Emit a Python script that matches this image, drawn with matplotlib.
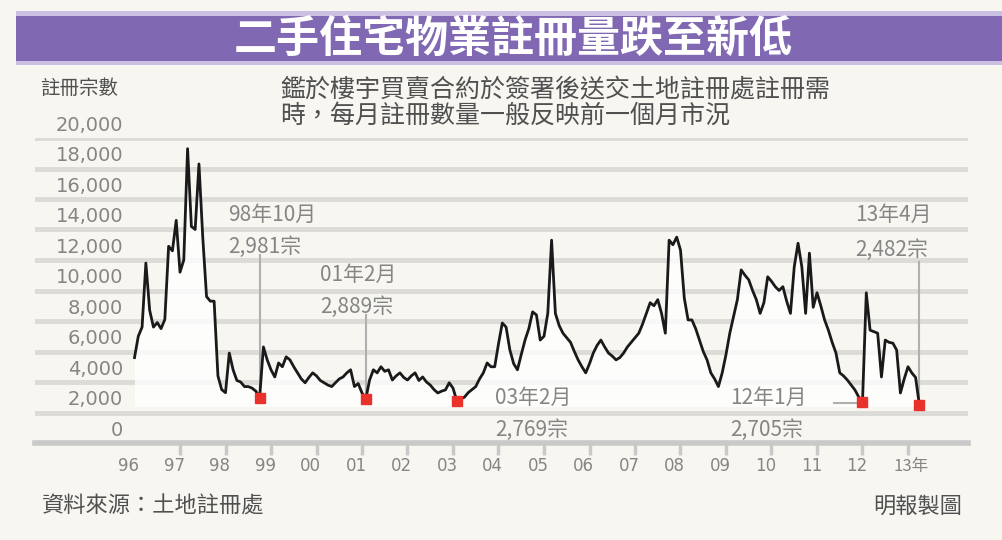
import numpy as np
import matplotlib
matplotlib.use('Agg')
import matplotlib.pyplot as plt

plt.rcParams['font.family'] = ['Noto Sans CJK TC', 'DejaVu Sans']

# 每月二手住宅註冊宗數 (1996年1月 - 2013年4月)
regs_1996 = [5600, 7000, 7600, 11800, 8700, 7600, 7900, 7500, 8100, 12900, 12600, 14600]
regs_1997 = [11200, 12000, 19300, 14200, 14000, 18300, 13500, 9600, 9300, 9300, 4400, 3500]
regs_1998 = [3300, 5900, 4800, 4100, 4000, 3700, 3700, 3600, 3400, 2981, 6300, 5450]
regs_1999 = [4800, 4330, 5250, 5000, 5650, 5450, 5000, 4600, 4200, 3950, 4300, 4600]
regs_2000 = [4400, 4100, 3950, 3800, 3700, 3950, 4200, 4330, 4600, 4800, 3700, 3900]
regs_2001 = [3280, 2889, 4130, 4800, 4600, 5000, 4700, 4800, 4130, 4400, 4600, 4300]
regs_2002 = [4130, 4400, 4600, 4100, 4330, 4000, 3800, 3500, 3280, 3400, 3480, 3950]
regs_2003 = [3600, 2769, 2900, 3000, 3300, 3500, 3700, 4200, 4600, 5250, 5000, 5000]
regs_2004 = [6500, 7870, 7600, 6100, 5200, 4800, 5800, 6750, 7500, 8600, 8400, 6750]
regs_2005 = [7000, 8500, 13300, 8500, 7700, 7200, 6900, 6600, 6000, 5450, 5000, 4600]
regs_2006 = [5200, 5900, 6400, 6750, 6300, 5900, 5700, 5450, 5600, 5900, 6300, 6600]
regs_2007 = [6900, 7200, 7800, 8500, 9200, 9000, 9400, 8500, 7200, 13300, 13000, 13500]
regs_2008 = [12650, 9500, 8070, 8070, 7500, 6750, 6000, 5450, 4600, 4200, 3700, 4600]
regs_2009 = [5800, 7200, 8300, 9400, 11350, 11000, 10700, 10000, 9400, 8500, 9200, 10900]
regs_2010 = [10600, 10250, 10000, 10250, 9300, 8500, 11550, 13100, 11550, 8500, 12450, 8900]
regs_2011 = [9850, 9000, 8070, 7400, 6600, 5900, 4600, 4400, 4130, 3800, 3480, 3020]
regs_2012 = [2705, 9850, 7400, 7300, 7200, 4330, 6750, 6600, 6550, 6100, 3280, 4200]
regs_2013 = [5000, 4600, 4300, 2482]

regs = (regs_1996 + regs_1997 + regs_1998 + regs_1999 + regs_2000 + regs_2001
        + regs_2002 + regs_2003 + regs_2004 + regs_2005 + regs_2006 + regs_2007
        + regs_2008 + regs_2009 + regs_2010 + regs_2011 + regs_2012 + regs_2013)
regs = np.array(regs)
months = np.arange(len(regs))

# 低位 (month index from Jan 1996)
low_idx = [33, 61, 85, 192, 207]
low_month = ['98年10月', '01年2月', '03年2月', '12年1月', '13年4月']
low_count = ['2,981宗', '2,889宗', '2,769宗', '2,705宗', '2,482宗']

year_labels = ['96', '97', '98', '99', '00', '01', '02', '03', '04', '05',
               '06', '07', '08', '09', '10', '11', '12', '13年']
y_ticks = list(range(0, 20001, 2000))

W, H = 1002, 540
bg = '#f7f6f1'
grey_txt = '#858585'
dark_txt = '#505050'


def fx(x):
    return x / W


def fy(y):
    return 1 - y / H


fig = plt.figure(figsize=(W / 100, H / 100), dpi=100)
fig.patch.set_facecolor(bg)

# title bar
fig.patches.append(plt.Rectangle((fx(16), fy(65)), 1, (65 - 11) / H, transform=fig.transFigure,
                                 facecolor='#cbc0e1', edgecolor='none'))
fig.patches.append(plt.Rectangle((fx(16), fy(61)), 1, (61 - 16) / H, transform=fig.transFigure,
                                 facecolor='#8068b2', edgecolor='none'))
fig.text(fx(513), fy(39), '二手住宅物業註冊量跌至新低', color='white', fontsize=31,
         fontweight='bold', ha='center', va='center')

# texts around
fig.text(fx(40), fy(88), '註冊宗數', color=dark_txt, fontsize=14, ha='left', va='center')
fig.text(fx(280), fy(90), '鑑於樓宇買賣合約於簽署後送交土地註冊處註冊需', color=dark_txt,
         fontsize=18, ha='left', va='center')
fig.text(fx(280), fy(116), '時，每月註冊數量一般反映前一個月市況', color=dark_txt,
         fontsize=18, ha='left', va='center')
fig.text(fx(42), fy(506), '資料來源：土地註冊處', color=dark_txt, fontsize=16, ha='left', va='center')
fig.text(fx(962), fy(506), '明報製圖', color=dark_txt, fontsize=16, ha='right', va='center')

# main axes: pixel 35..968 horizontally, 0 at y=443, 20000 at y=138
px_per_month = 45.5 / 12
x_left = 12 - (180 - 35) / px_per_month
x_right = 12 + (968 - 180) / px_per_month
ax = fig.add_axes([fx(35), fy(443), (968 - 35) / W, (443 - 138) / H])
ax.set_xlim(x_left, x_right)
ax.set_ylim(0, 20000)
ax.axis('off')

for v in y_ticks[1:]:
    ax.axhline(v, color='#dcdbd8', lw=3.5, zorder=1)
ax.axhline(0, color='#c9c9c9', lw=4, zorder=6, clip_on=False)

ytr = ax.get_yaxis_transform()
for v in y_ticks:
    ax.text((123 - 35) / (968 - 35), v + 850, f'{v:,}', transform=ytr, ha='right',
            va='center', fontsize=14, color=grey_txt, family=['DejaVu Sans'])

# year ticks and labels
xtr = ax.get_xaxis_transform()
tick_months = [12 * i for i in range(1, len(year_labels))]
ax.vlines(tick_months, -12 / 305, 0, transform=xtr, color='#c9c9c9', lw=2.5, clip_on=False)
for i, lab in enumerate(year_labels):
    xm = 12 * i - 1.5
    if lab.endswith('年'):
        ax.text(xm - 2.2, -23 / 305, lab, transform=xtr, ha='left', va='center',
                fontsize=12, color=grey_txt)
    else:
        ax.text(xm, -23 / 305, lab, transform=xtr, ha='center', va='center',
                fontsize=12, color=grey_txt, family=['DejaVu Sans'])

# white area under the line
ax.fill_between(months, regs, 2400, where=regs > 2400, interpolate=True, color='white',
                alpha=0.8, lw=0, zorder=2)

ax.plot(months, regs, color='#1a1a1a', lw=2.0, zorder=4)
ax.plot(low_idx, regs[low_idx], 's', color='#e8322b', ms=6.5, zorder=5)

# annotations: text left month, first line y px, second line y px, connector
v_per_px = 2000 / 30.5
notes = [
    (24.7, 215, 247, 'v', 255),
    (48.9, 275, 307, 'v', 315),
    (95.1, 398, 430, None, None),
    (157.1, 398, 430, 'h', 184.5),
    (190.1, 215, 250, 'v', 262),
]
for k, (tx, y1, y2, kind, end) in enumerate(notes):
    ax.text(tx, (443 - y1) * v_per_px, low_month[k], ha='left', va='center', fontsize=15,
            color=grey_txt, zorder=7)
    ax.text(tx, (443 - y2) * v_per_px, low_count[k], ha='left', va='center', fontsize=15,
            color=grey_txt, zorder=7)
    i = low_idx[k]
    if kind == 'v':
        ax.plot([i, i], [regs[i], (443 - end) * v_per_px], color='#b0b0b0', lw=1.5, zorder=3)
    elif kind == 'h':
        ax.plot([end, i - 0.5], [regs[i] - 100, regs[i] - 100], color='#b0b0b0', lw=1.5, zorder=3)

fig.savefig('out.png', dpi=100, facecolor=bg)
